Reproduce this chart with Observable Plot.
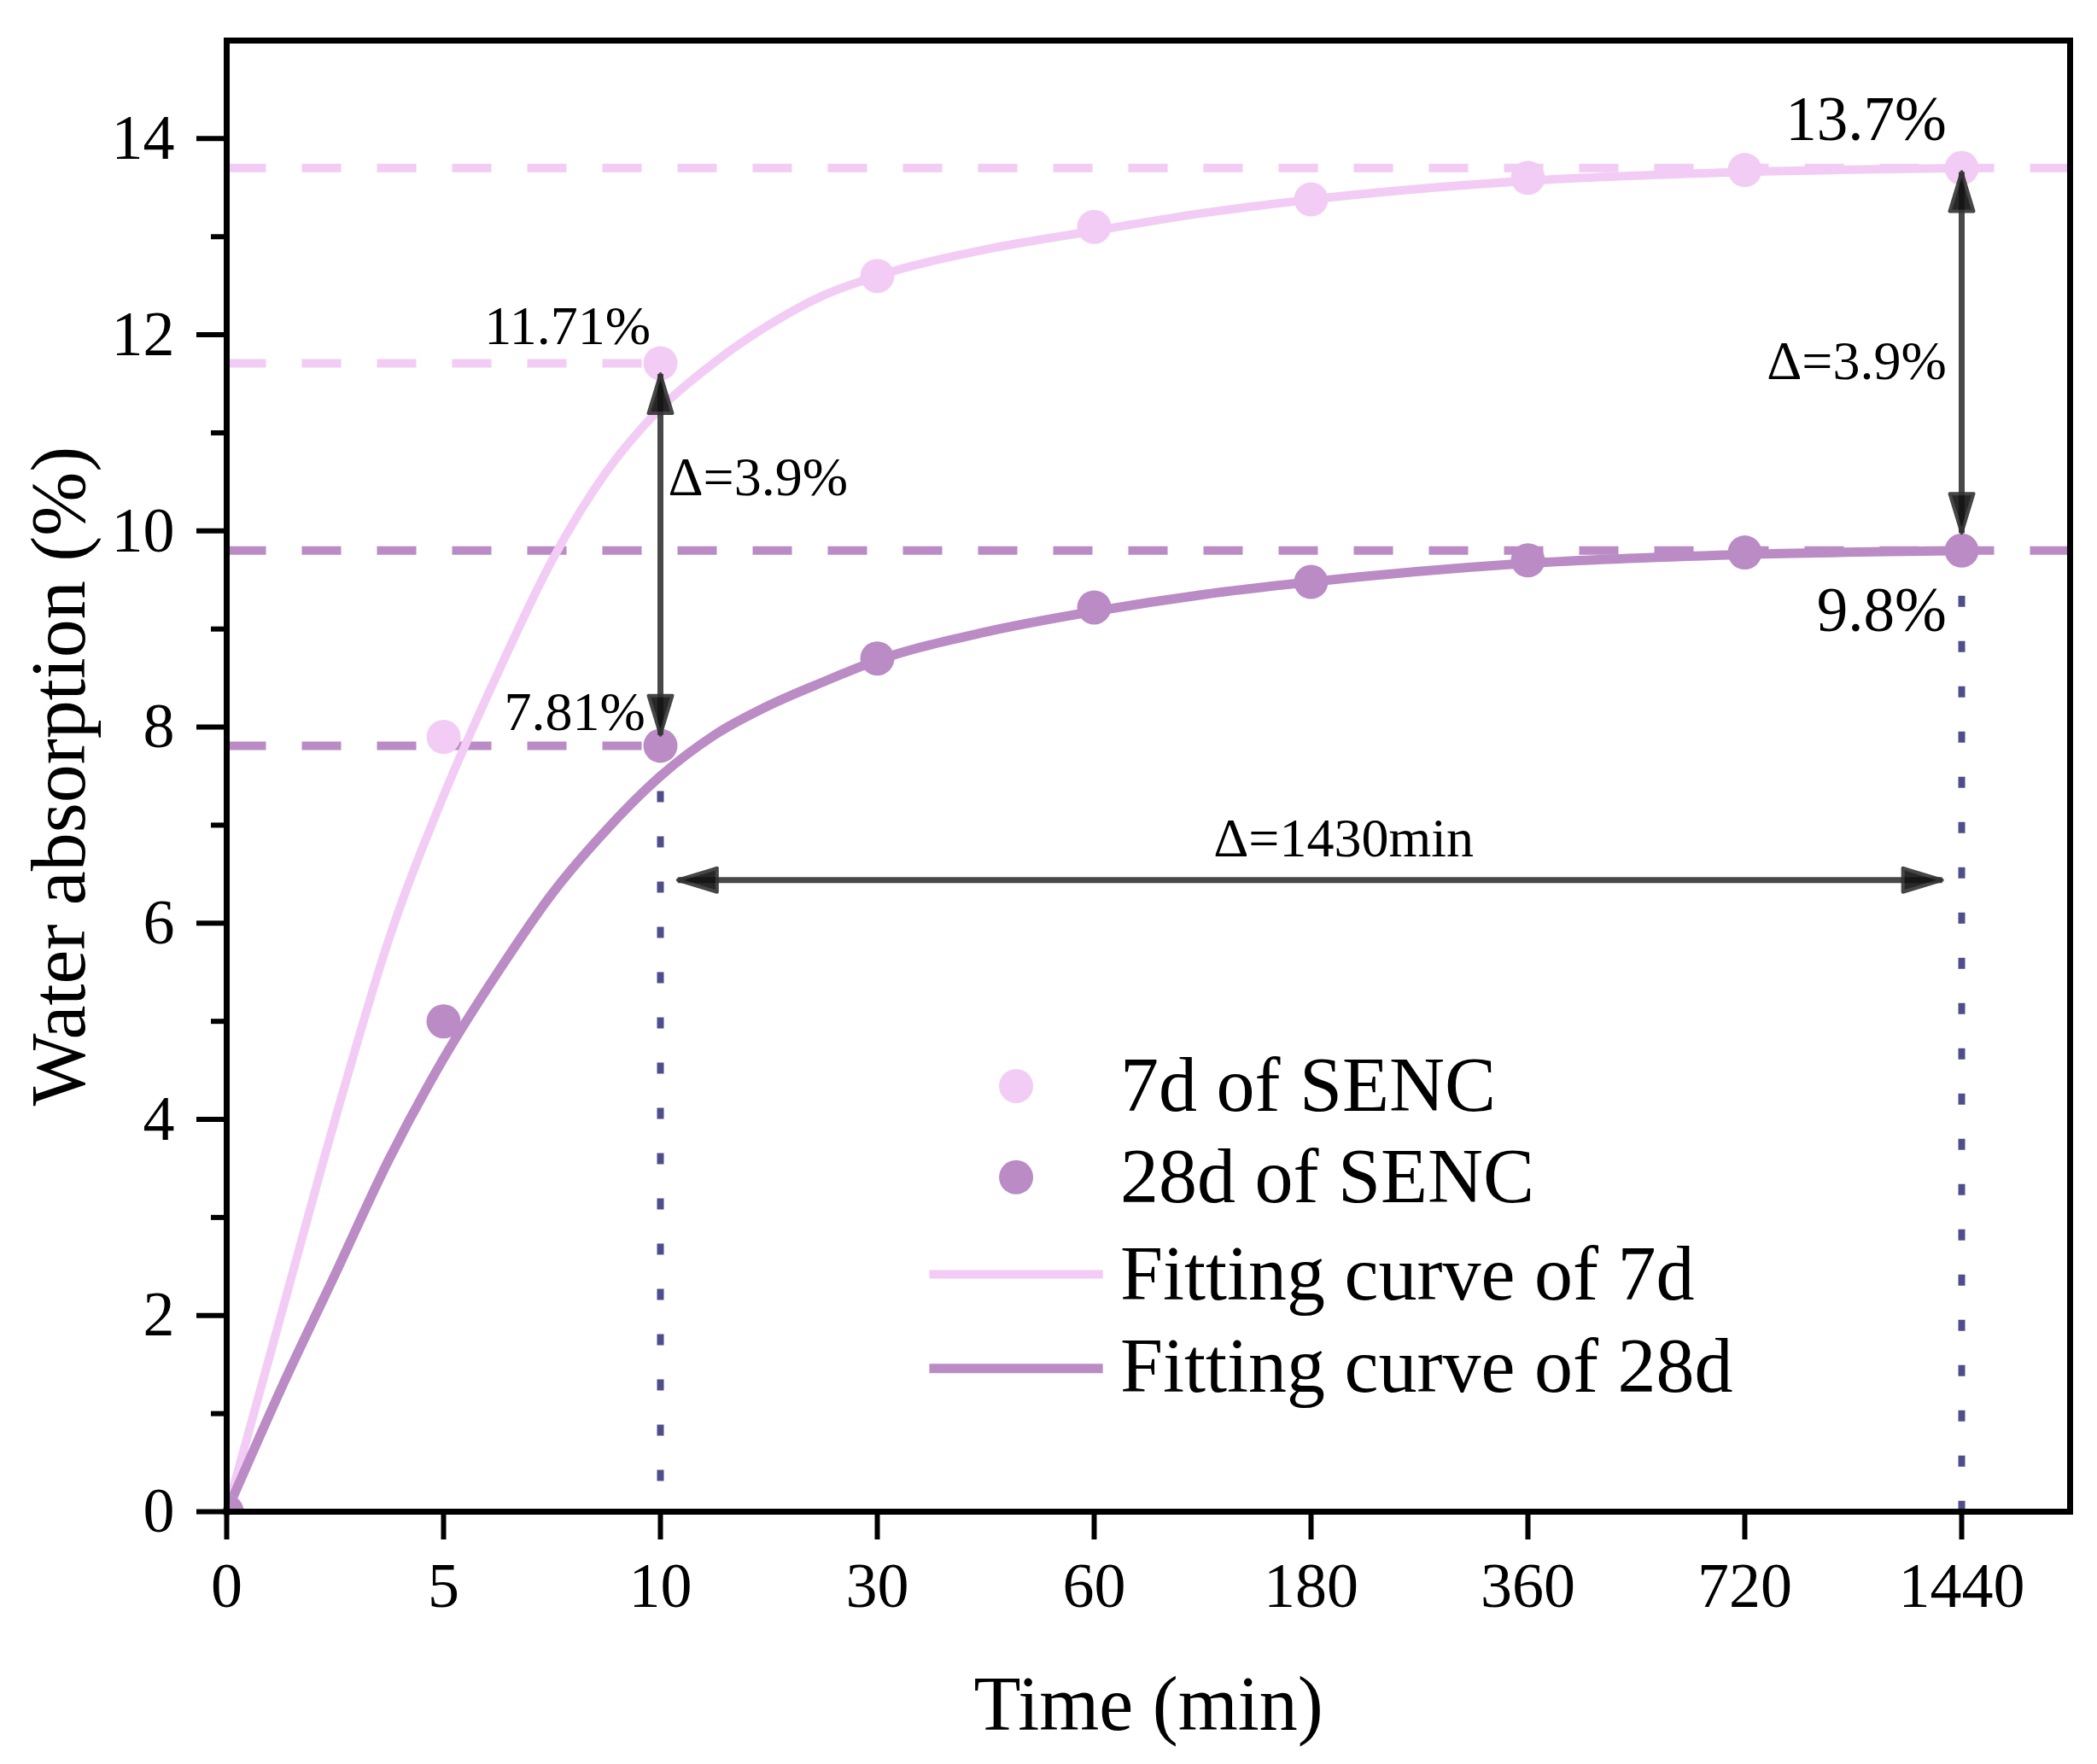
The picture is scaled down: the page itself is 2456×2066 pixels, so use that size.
<!DOCTYPE html>
<html>
<head>
<meta charset="utf-8">
<script src="https://cdn.jsdelivr.net/npm/d3@7"></script>
<script src="https://cdn.jsdelivr.net/npm/@observablehq/plot@0.6"></script>
<style>
  body { margin: 0; background: #fff; }
</style>
</head>
<body>
<div id="chart"></div>
<script>
// time categories (evenly spaced on the x axis)
const timeLabels = ["0", "5", "10", "30", "60", "180", "360", "720", "1440"];
const timePos = [0, 1, 2, 3, 4, 5, 6, 7, 8];

// measured water absorption (%)
const absorption7d = [0, 7.9, 11.71, 12.6, 13.1, 13.38, 13.6, 13.68, 13.7];
const absorption28d = [0, 5.0, 7.81, 8.7, 9.22, 9.48, 9.7, 9.78, 9.8];

// fitting curves at these x positions
const fitPos = [0, 0.25, 0.5, 0.75, 1, 1.25, 1.5, 1.75, 2, 2.25, 2.5, 2.75, 3, 3.5, 4, 4.5, 5, 6, 7, 8];
const fit7d = [0, 2.0, 4.0, 5.85, 7.3, 8.55, 9.7, 10.6, 11.25, 11.72, 12.1, 12.4, 12.6, 12.87, 13.06, 13.24, 13.38, 13.57, 13.66, 13.7];
const fit28d = [0, 1.25, 2.42, 3.6, 4.62, 5.5, 6.3, 6.95, 7.5, 7.92, 8.22, 8.46, 8.68, 8.97, 9.18, 9.35, 9.48, 9.67, 9.76, 9.8];

// reference levels
const levels7d = [13.7, 11.71];
const levels28d = [9.8, 7.81];
const levelEnds = [8.5, 2];

const legendNames = ["7d of SENC", "28d of SENC", "Fitting curve of 7d", "Fitting curve of 28d"];

const pink = "#F2CCF4";
const purple = "#BA8BC4";
const navy = "#4E4E8A";

const pts7 = timePos.map((x, i) => ({x, y: absorption7d[i]}));
const pts28 = timePos.map((x, i) => ({x, y: absorption28d[i]}));
const curve7 = fitPos.map((x, i) => ({x, y: fit7d[i]}));
const curve28 = fitPos.map((x, i) => ({x, y: fit28d[i]}));

const guides7 = levels7d.map((y, i) => ({y, x2: levelEnds[i]}));
const guides28 = levels28d.map((y, i) => ({y, x2: levelEnds[i]}));

// dotted drops to the axis
const drops = [{x: 2, y: 7.81}, {x: 8, y: 9.8}];

// double arrows and their heads
const arrowLines = [
  {x1: 2, y1: 7.92, x2: 2, y2: 11.6},
  {x1: 8, y1: 9.98, x2: 8, y2: 13.66},
  {x1: 2.08, y1: 6.44, x2: 7.91, y2: 6.44}
];
const arrowHeads = [
  {x: 2, y: 11.6, r: 0}, {x: 2, y: 7.92, r: 180},
  {x: 8, y: 13.66, r: 0}, {x: 8, y: 9.98, r: 180},
  {x: 2.08, y: 6.44, r: -90}, {x: 7.91, y: 6.44, r: 90}
];
const head = {
  draw(context, l) {
    context.moveTo(0, 0);
    context.lineTo(-14, l);
    context.lineTo(14, l);
    context.closePath();
  }
};

const notesEnd = [
  {x: 1.955, y: 12.08, t: "11.71%"},
  {x: 1.93, y: 8.15, t: "7.81%"},
  {x: 7.93, y: 11.73, t: "\u0394=3.9%"}
];
const notesStart = [{x: 2.035, y: 10.54, t: "\u0394=3.9%"}];
const notesMid = [{x: 5.15, y: 6.86, t: "\u0394=1430min"}];
const bigNotes = [
  {x: 7.93, y: 14.19, t: "13.7%"},
  {x: 7.93, y: 9.18, t: "9.8%"}
];

const legendDots = [{x: 3.64, y: 4.34, c: pink}, {x: 3.64, y: 3.41, c: purple}];
const legendLines = [{x1: 3.24, x2: 4.04, y: 2.42, c: pink, w: 10}, {x1: 3.24, x2: 4.04, y: 1.46, c: purple, w: 11}];
const legendText = legendNames.map((t, i) => ({t, x: 4.12, y: [4.34, 3.41, 2.41, 1.47][i]}));

const chart = Plot.plot({
  width: 2456,
  height: 2066,
  marginLeft: 265,
  marginRight: 32,
  marginTop: 47,
  marginBottom: 296,
  style: {fontFamily: "'Liberation Serif', 'Times New Roman', serif", background: "white", color: "black"},
  x: {domain: [0, 8.5]},
  y: {domain: [0, 15]},
  marks: [
    // dashed reference levels
    Plot.link(guides7, {x1: 0, x2: "x2", y1: "y", y2: "y", stroke: pink, strokeWidth: 10, strokeDasharray: "46,42"}),
    Plot.link(guides28, {x1: 0, x2: "x2", y1: "y", y2: "y", stroke: purple, strokeWidth: 10, strokeDasharray: "46,42"}),
    // dotted drops
    Plot.link(drops, {x1: "x", x2: "x", y1: "y", y2: 0, stroke: navy, strokeWidth: 8, strokeDasharray: "13,40"}),
    // fitting curves
    Plot.line(curve7, {x: "x", y: "y", stroke: pink, strokeWidth: 10, curve: "monotone-x"}),
    Plot.line(curve28, {x: "x", y: "y", stroke: purple, strokeWidth: 11, curve: "monotone-x"}),
    // measured points
    Plot.dot(pts7, {x: "x", y: "y", r: 20, fill: pink, clip: true}),
    Plot.dot(pts28, {x: "x", y: "y", r: 20, fill: purple, clip: true}),
    // arrows
    Plot.link(arrowLines, {x1: "x1", y1: "y1", x2: "x2", y2: "y2", stroke: "#484848", strokeWidth: 7}),
    Plot.vector(arrowHeads, {x: "x", y: "y", rotate: "r", length: 46, anchor: "start", shape: head,
      fill: "#111", stroke: "#333", strokeWidth: 4, opacity: 0.9}),
    // annotations
    Plot.text(notesEnd, {x: "x", y: "y", text: "t", textAnchor: "end", fontSize: 64, lineAnchor: "middle", fill: "black"}),
    Plot.text(notesStart, {x: "x", y: "y", text: "t", textAnchor: "start", fontSize: 64, lineAnchor: "middle", fill: "black"}),
    Plot.text(notesMid, {x: "x", y: "y", text: "t", textAnchor: "middle", fontSize: 64, lineAnchor: "middle", fill: "black"}),
    Plot.text(bigNotes, {x: "x", y: "y", text: "t", textAnchor: "end", fontSize: 73, lineAnchor: "middle", fill: "black"}),
    // legend
    Plot.dot(legendDots, {x: "x", y: "y", r: 20, fill: "c"}),
    Plot.link(legendLines, {x1: "x1", x2: "x2", y1: "y", y2: "y", stroke: "c", strokeWidth: "w"}),
    Plot.text(legendText, {x: "x", y: "y", text: "t", textAnchor: "start", lineAnchor: "middle", fontSize: 90, fill: "black"}),
    // axes
    Plot.axisX({ticks: timePos, tickFormat: (d) => timeLabels[d], tickSize: 33, tickPadding: 26, strokeWidth: 6, fontSize: 74, label: null}),
    Plot.axisY({ticks: [0, 2, 4, 6, 8, 10, 12, 14], tickSize: 35, tickPadding: 26, strokeWidth: 6, fontSize: 74, label: null}),
    Plot.axisY({ticks: [1, 3, 5, 7, 9, 11, 13], tickSize: 18, tickFormat: () => "", strokeWidth: 6, label: null}),
    Plot.text(["Time (min)"], {text: (d) => d, frameAnchor: "bottom", dy: 227, lineAnchor: "middle", fontSize: 90, fill: "black"}),
    Plot.text(["Water absorption (%)"], {text: (d) => d, frameAnchor: "left", dx: -195, rotate: -90, textAnchor: "middle", lineAnchor: "middle", fontSize: 90, fill: "black"}),
    Plot.frame({stroke: "black", strokeWidth: 7})
  ]
});

d3.select("#chart").append(() => chart);
</script>
</body>
</html>
